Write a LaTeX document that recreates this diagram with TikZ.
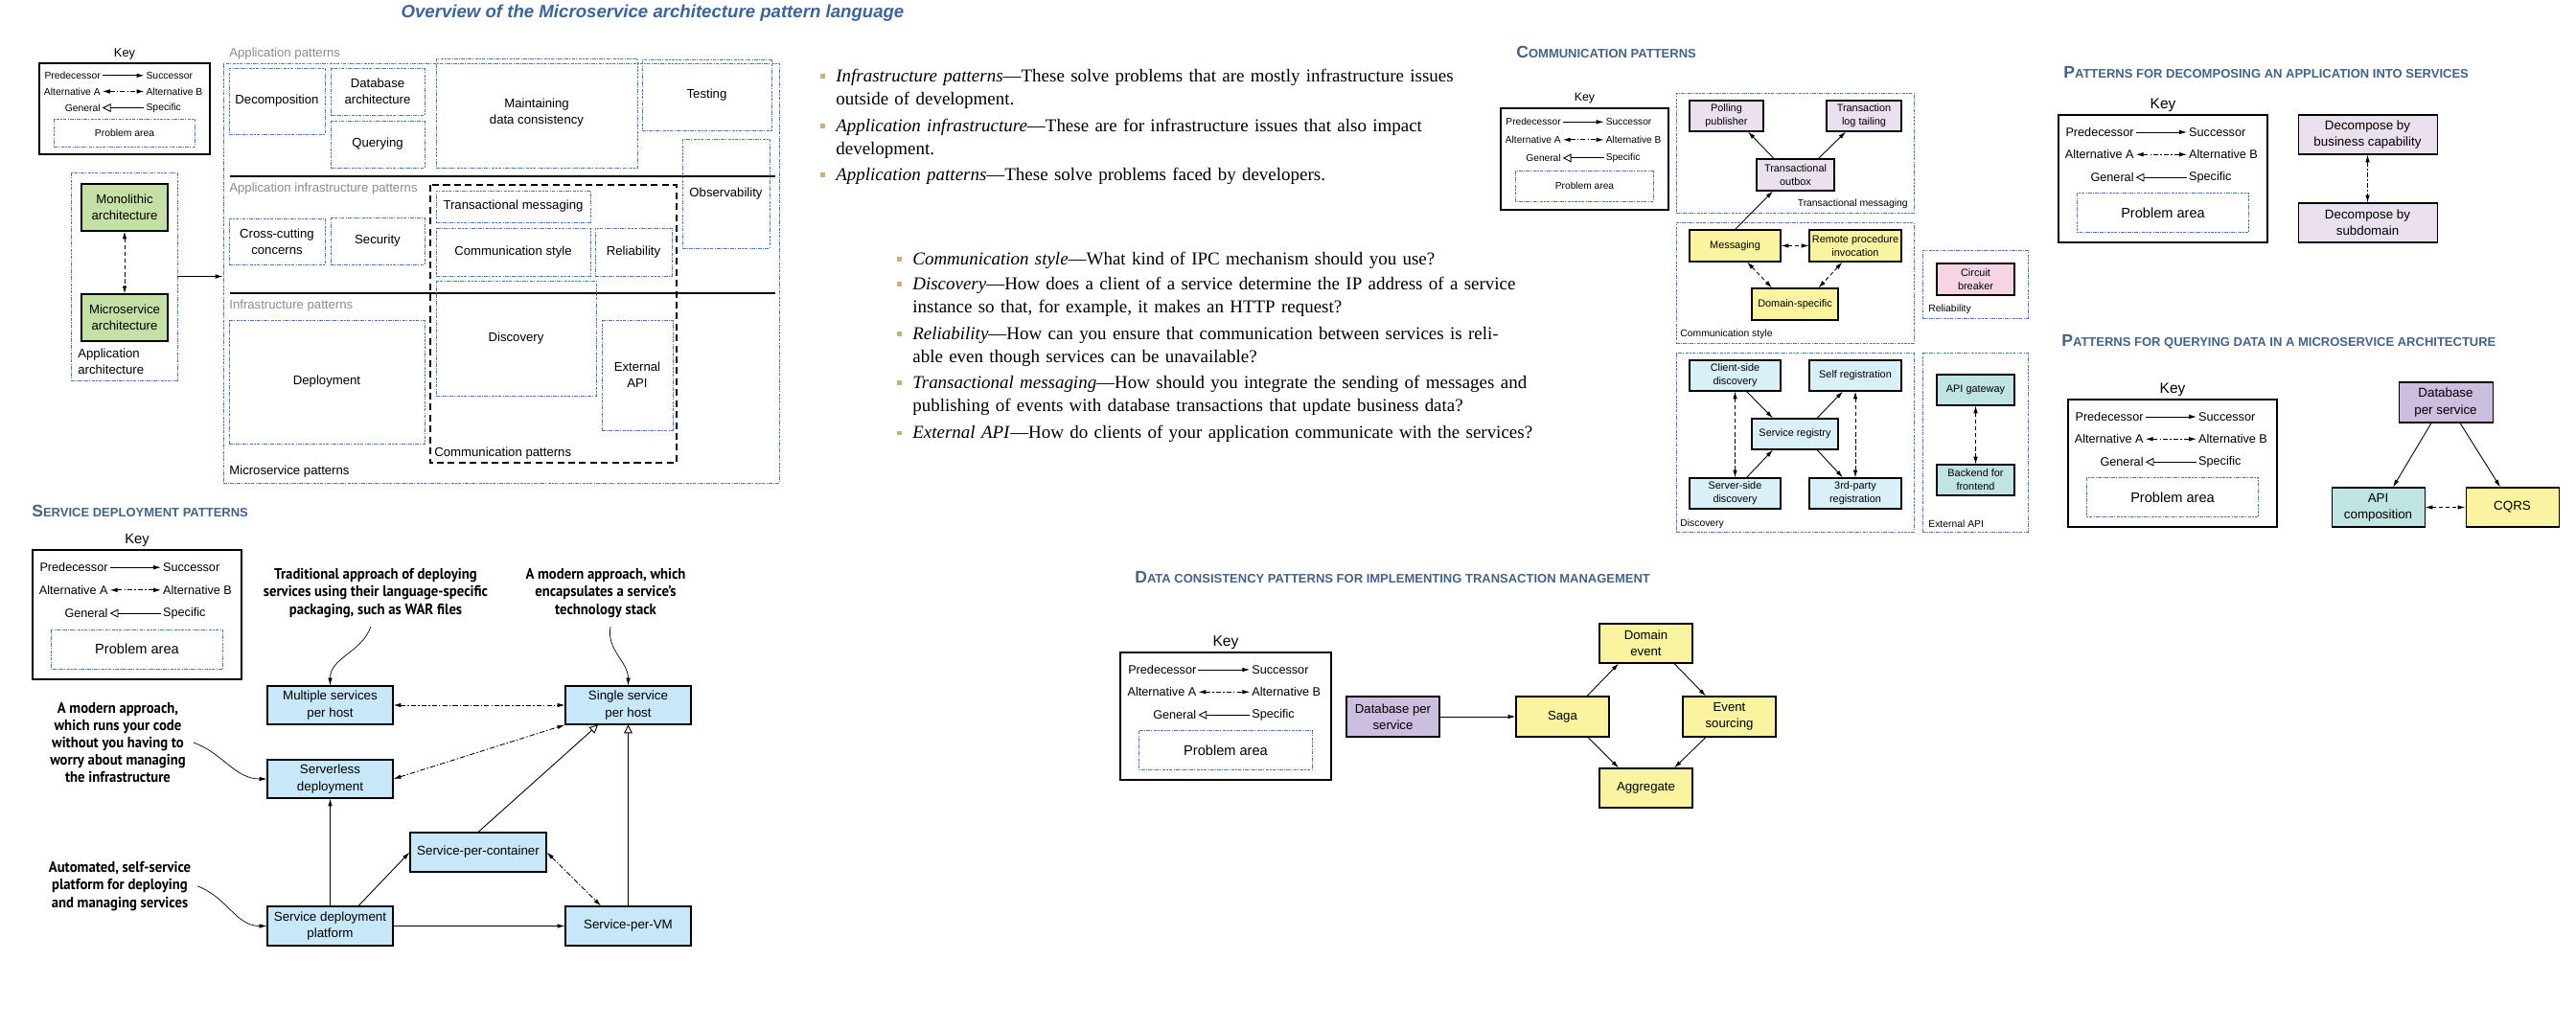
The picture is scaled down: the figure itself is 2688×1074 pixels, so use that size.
\documentclass[tikz,border=0pt]{standalone}
\usepackage{fontspec}
\setmainfont{Liberation Sans}
\newfontfamily\bodyserif{Liberation Serif}
\newfontfamily\notefont[FakeStretch=0.93]{PT Sans}
\usetikzlibrary{arrows.meta,positioning,calc}

\definecolor{areablue}{RGB}{76,118,190}
\definecolor{headblue}{RGB}{68,98,134}
\definecolor{titleblue}{RGB}{60,100,155}
\definecolor{labelgray}{RGB}{140,140,140}
\definecolor{archgreen}{RGB}{197,224,165}
\definecolor{lavender}{RGB}{234,224,238}
\definecolor{dbpurple}{RGB}{204,190,222}
\definecolor{patyellow}{RGB}{250,244,160}
\definecolor{cbpink}{RGB}{246,212,228}
\definecolor{disccyan}{RGB}{218,240,248}
\definecolor{apiteal}{RGB}{192,228,225}
\definecolor{deplblue}{RGB}{200,232,250}
\definecolor{bulletgold}{RGB}{205,175,120}

\newcommand{\fsz}[2]{\fontsize{#1}{#2}\selectfont}
\newcommand{\sectionhead}[2]{{\fsz{10}{12}#1}{\fsz{7.4}{9}#2}}
% justified line of a given width
\newcommand{\fullline}[2]{\hbox to #1{#2}}

\tikzset{
  keyframe/.style={draw, line width=0.8pt},
  probline/.style={draw=areablue, line width=0.5pt, dash pattern=on 2pt off 0.7pt on 0.7pt off 0.7pt},
  probarea/.style={probline, align=center, inner sep=1pt},
  patbox/.style={draw, line width=0.6pt, fill=#1, align=center, inner sep=1pt},
  patbox/.default=white,
  wh/.style 2 args={minimum width=#1*0.02cm, minimum height=#2*0.02cm},
  succarrow/.style={->, line width=0.5pt},
  altarrow/.style={<->, line width=0.5pt, dash pattern=on 2.5pt off 1.5pt},
  altdotarrow/.style={<->, line width=0.5pt, dash pattern=on 3pt off 1.2pt on 0.8pt off 1.2pt},
  genarrow/.style={-{Triangle[open,length=5pt,width=5pt]}, line width=0.5pt},
  noteline/.style={->, line width=0.4pt},
  divider/.style={line width=0.6pt},
  commframe/.style={line width=0.6pt, dash pattern=on 4pt off 2.5pt},
  grouplabel/.style={anchor=west, inner sep=0pt, text=labelgray},
  regionlabel/.style={inner sep=0pt, font=\fsz{5.9}{7}},
  headtext/.style={anchor=west, inner sep=0pt, text=headblue, font=\bfseries},
  bulletsq/.style={fill=bulletgold, minimum size=0.1cm, inner sep=0pt},
  bodytext/.style={anchor=north west, inner sep=0pt, align=left, font=\bodyserif\fsz{10.8}{13.8}},
  notetext/.style={align=center, inner sep=1pt, font=\notefont\bfseries\fsz{9}{10.3}},
}

% key box: name prefix, top-left corner, width, height (px), row / key / problem-area font sizes
\newcommand{\patternkey}[8]{%
  \pgfmathsetmacro{\keyw}{#4*0.02}%
  \pgfmathsetmacro{\keyh}{-#5*0.02}%
  \begin{scope}[shift={(#2,#3)}, x=\keyw cm, y=\keyh cm, font=\fontsize{#6}{#6}\selectfont]
    \draw[keyframe] (0,0) rectangle (1,1);
    \node[font=\fontsize{#7}{#7}\selectfont] (#1key) at ([yshift=0.2cm]0.5,0) {Key};
    \node[anchor=east, inner sep=1pt] (#1pre) at (0.37,0.135) {Predecessor};
    \node[anchor=west, inner sep=1pt] (#1suc) at (0.615,0.135) {Successor};
    \node[anchor=east, inner sep=1pt] (#1alta) at (0.37,0.31) {Alternative A};
    \node[anchor=west, inner sep=1pt] (#1altb) at (0.615,0.31) {Alternative B};
    \node[anchor=east, inner sep=1pt] (#1gen) at (0.37,0.49) {General};
    \node[anchor=west, inner sep=1pt] (#1spec) at (0.615,0.49) {Specific};
    \draw[probline] (0.088,0.615) rectangle (0.912,0.92);
    \node[font=\fontsize{#8}{#8}\selectfont] (#1prob) at (0.5,0.7675) {Problem area};
    \draw[succarrow] (#1pre) -- (#1suc);
    \draw[altdotarrow] (#1alta) -- (#1altb);
    \draw[genarrow] (#1spec) -- (#1gen);
  \end{scope}}

\begin{document}
\begin{tikzpicture}[x=0.02cm, y=-0.02cm, >={Latex[length=4.5pt,width=2.6pt]}]
\useasboundingbox (0,0) rectangle (2688,1074);

% Overview
\node[font=\bfseries\itshape\fsz{10.6}{12}, text=titleblue] (ovtitle) at (681,14) {Overview of the Microservice architecture pattern language};
\patternkey{ov}{41}{66}{178}{95}{5.9}{7.3}{5.9}

\begin{scope}[font=\fsz{7.5}{9.7}]
  % Application architecture
  \node[probarea, wh={111}{217}] (apparch) at (129.5,288.5) {};
  \node[patbox=archgreen, wh={90}{49}] (mono) at (130,216.5) {Monolithic\\architecture};
  \node[patbox=archgreen, wh={90}{49}] (micro) at (130,331.5) {Microservice\\architecture};
  \node[anchor=west, align=left, inner sep=0pt] (applabel) at (81,377.5) {Application\\architecture};
  \draw[altarrow] (mono) -- (micro);

  % Microservice patterns
  \node[probarea, wh={580}{438}] (msarea) at (523,285) {};
  \draw[succarrow] (apparch.east) -- (apparch.east -| msarea.west);
  \node[grouplabel] (applab) at (239,56) {Application patterns};
  \node[probarea, wh={100}{69}] (decomp) at (289,105.5) {Decomposition};
  \node[probarea, wh={98}{49}] (dbarch) at (394,95.5) {Database\\architecture};
  \node[probarea, wh={98}{49}] (querying) at (394,150.5) {Querying};
  \node[probarea, wh={210}{114}] (consist) at (560,118) {Maintaining\\data consistency};
  \node[probarea, wh={135}{74}] (testing) at (737.5,99) {Testing};
  \draw[divider] (240,184) -- (809,184);

  \node[grouplabel] (appinflab) at (239,197) {Application infrastructure patterns};
  \node[probarea, wh={100}{48}] (crosscut) at (289,252) {Cross-cutting\\concerns};
  \node[probarea, wh={98}{49}] (security) at (394,251.5) {Security};
  \node[probarea, wh={91}{114}] (observ) at (757.5,202) {Observability};
  \draw[commframe] (449,193) rectangle (706,483);
  \node[probarea, wh={161}{33}] (txmsg) at (535.5,215.5) {Transactional messaging};
  \node[probarea, wh={161}{50}] (commstyle) at (535.5,263) {Communication style};
  \node[probarea, wh={80}{50}] (reliab) at (661,263) {Reliability};
  \draw[divider] (240,306) -- (809,306);

  \node[grouplabel] (inflab) at (239,319) {Infrastructure patterns};
  \node[probarea, wh={204}{129}] (deploy) at (341,398.5) {Deployment};
  \node[probarea, wh={167}{120}] (discov) at (538.5,353) {Discovery};
  \node[probarea, wh={74}{115}] (extapi) at (665,391.5) {External\\API};
  \node[grouplabel, text=black] (cplab) at (453,473) {Communication patterns};
  \node[grouplabel, text=black] (mslab) at (239,492) {Microservice patterns};
\end{scope}

% Bullets
\node[bulletsq] (ib1) at (858,80) {};
\node[bodytext, text width=12.8cm] (it1) at (872,68) {\fullline{12.8cm}{\strut\textit{Infrastructure patterns}—These solve problems that are mostly infrastructure issues}\\outside of development.};
\node[bulletsq] (ib2) at (858,132) {};
\node[bodytext, text width=12.8cm] (it2) at (872,120) {\fullline{12.8cm}{\strut\textit{Application infrastructure}—These are for infrastructure issues that also impact}\\development.};
\node[bulletsq] (ib3) at (858,183) {};
\node[bodytext, text width=12.8cm] (it3) at (872,171) {\mbox{\strut\textit{Application patterns}—These solve problems faced by developers.}};

\node[bulletsq] (ib4) at (938,271) {};
\node[bodytext, text width=13.2cm] (it4) at (952,259) {\mbox{\strut\textit{Communication style}—What kind of IPC mechanism should you use?}};
\node[bulletsq] (ib5) at (938,297) {};
\node[bodytext, text width=13.2cm] (it5) at (952,285) {\fullline{13.2cm}{\strut\textit{Discovery}—How does a client of a service determine the IP address of a service}\\instance so that, for example, it makes an HTTP request?};
\node[bulletsq] (ib6) at (938,349) {};
\node[bodytext, text width=13.2cm] (it6) at (952,337) {\fullline{13.2cm}{\strut\textit{Reliability}—How can you ensure that communication between services is reli-}\\able even though services can be unavailable?};
\node[bulletsq] (ib7) at (938,400) {};
\node[bodytext, text width=13.2cm] (it7) at (952,388) {\fullline{13.2cm}{\strut\textit{Transactional messaging}—How should you integrate the sending of messages and}\\publishing of events with database transactions that update business data?};
\node[bulletsq] (ib8) at (938,452) {};
\node[bodytext, text width=13.2cm] (it8) at (952,440) {\fullline{13.2cm}{\strut\textit{External API}—How do clients of your application communicate with the services?}};

% Communication patterns
\node[headtext] (cmtitle) at (1582,54) {\sectionhead{C}{OMMUNICATION PATTERNS}};
\patternkey{cm}{1566}{113}{175}{106}{5.8}{7}{5.8}
\begin{scope}[font=\fsz{6.2}{8}]
  % Problem areas
  \node[probarea, wh={248}{125}] (txregion) at (1873,159.5) {};
  \node[probarea, wh={248}{126}] (csregion) at (1873,295) {};
  \node[probarea, wh={110}{71}] (relregion) at (2061,296.5) {};
  \node[probarea, wh={248}{187}] (discregion) at (1873,461.5) {};
  \node[probarea, wh={110}{187}] (extregion) at (2061,461.5) {};
  \node[regionlabel, anchor=east] (txlabel) at (1991,213) {Transactional messaging};
  \node[regionlabel, anchor=west] (cslabel) at (1753,349) {Communication style};
  \node[regionlabel, anchor=west] (rellabel) at (2012,323) {Reliability};
  \node[regionlabel, anchor=west] (disclabel) at (1753,547) {Discovery};
  \node[regionlabel, anchor=west] (extlabel) at (2012,547) {External API};

  % Transactional messaging
  \node[patbox=lavender, wh={77}{32}] (pollpub) at (1801.5,121) {Polling\\publisher};
  \node[patbox=lavender, wh={78}{32}] (logtail) at (1945,121) {Transaction\\log tailing};
  \node[patbox=lavender, wh={81}{33}] (outbox) at (1873.5,182.5) {Transactional\\outbox};
  \draw[succarrow] ([xshift=-0.45cm]outbox.north) -- ([xshift=0.45cm]pollpub.south);
  \draw[succarrow] ([xshift=0.48cm]outbox.north) -- ([xshift=-0.38cm]logtail.south);

  % Communication style
  \node[patbox=patyellow, wh={95}{33}] (messaging) at (1810.5,256.5) {Messaging};
  \node[patbox=patyellow, wh={96}{33}] (rpi) at (1936,256.5) {Remote procedure\\invocation};
  \node[patbox=patyellow, wh={90}{33}] (domspec) at (1873,317.5) {Domain-specific};
  \draw[succarrow] (messaging.north) -- ([xshift=-0.47cm]outbox.south);
  \draw[altarrow] (messaging) -- (rpi);
  \draw[altarrow] ([xshift=0.25cm]messaging.south) -- ([xshift=-0.48cm]domspec.north);
  \draw[altarrow] ([xshift=-0.27cm]rpi.south) -- ([xshift=0.49cm]domspec.north);

  % Reliability
  \node[patbox=cbpink, wh={81}{33}] (circuit) at (2061.5,291.5) {Circuit\\breaker};

  % Discovery
  \node[patbox=disccyan, wh={95}{32}] (clientdisc) at (1810.5,392) {Client-side\\discovery};
  \node[patbox=disccyan, wh={96}{32}] (selfreg) at (1936,392) {Self registration};
  \node[patbox=disccyan, wh={90}{32}] (registry) at (1873,453) {Service registry};
  \node[patbox=disccyan, wh={95}{32}] (serverdisc) at (1810.5,515) {Server-side\\discovery};
  \node[patbox=disccyan, wh={96}{32}] (thirdreg) at (1936,515) {3rd-party\\registration};
  \draw[succarrow] ([xshift=0.24cm]clientdisc.south) -- ([xshift=-0.46cm]registry.north);
  \draw[succarrow] ([xshift=0.46cm]registry.north) -- ([xshift=-0.26cm]selfreg.south);
  \draw[succarrow] ([xshift=0.24cm]serverdisc.north) -- ([xshift=-0.46cm]registry.south);
  \draw[succarrow] ([xshift=0.46cm]registry.south) -- ([xshift=-0.26cm]thirdreg.north);
  \draw[altarrow] (clientdisc) -- (serverdisc);
  \draw[altarrow] (selfreg) -- (thirdreg);

  % External API
  \node[patbox=apiteal, wh={81}{32}] (apigw) at (2061.5,407) {API gateway};
  \node[patbox=apiteal, wh={81}{32}] (bff) at (2061.5,501) {Backend for\\frontend};
  \draw[altarrow] (apigw) -- (bff);
\end{scope}

% Decomposition
\node[headtext] (dctitle) at (2153,76) {\sectionhead{P}{ATTERNS FOR DECOMPOSING AN APPLICATION INTO SERVICES}};
\patternkey{dc}{2148}{120}{218}{133}{7.2}{8.8}{8.3}
\begin{scope}[font=\fsz{7.6}{9.8}]
  \node[patbox=lavender, wh={145}{41}] (bizcap) at (2470.5,140.5) {Decompose by\\business capability};
  \node[patbox=lavender, wh={145}{41}] (subdom) at (2470.5,232.5) {Decompose by\\subdomain};
  \draw[altdotarrow] (bizcap) -- (subdom);
\end{scope}

% Querying
\node[headtext] (qrtitle) at (2151,357) {\sectionhead{P}{ATTERNS FOR QUERYING DATA IN A MICROSERVICE ARCHITECTURE}};
\patternkey{qr}{2158}{417}{218}{133}{7.2}{8.8}{8.3}
\begin{scope}[font=\fsz{7.6}{9.8}]
  \node[patbox=dbpurple, wh={98}{42}] (dbquery) at (2552,420) {Database\\per service};
  \node[patbox=apiteal, wh={97}{41}] (apicomp) at (2481.5,529.5) {API\\composition};
  \node[patbox=patyellow, wh={97}{41}] (cqrs) at (2621.5,529.5) {CQRS};
  \draw[succarrow] ([xshift=-0.3cm]dbquery.south) -- ([xshift=0.31cm]apicomp.north);
  \draw[succarrow] ([xshift=0.3cm]dbquery.south) -- ([xshift=-0.25cm]cqrs.north);
  \draw[altarrow] (apicomp) -- (cqrs);
\end{scope}

% Service deployment
\node[headtext] (dptitle) at (33,533) {\sectionhead{S}{ERVICE DEPLOYMENT PATTERNS}};
\patternkey{dp}{34}{574}{218}{135}{7.2}{8.4}{8.3}
\begin{scope}[font=\fsz{7.6}{9.8}]
  \node[patbox=deplblue, wh={131}{40}] (multi) at (344.5,736) {Multiple services\\per host};
  \node[patbox=deplblue, wh={131}{40}] (single) at (655.5,736) {Single service\\per host};
  \node[patbox=deplblue, wh={131}{40}] (serverless) at (344.5,813) {Serverless\\deployment};
  \node[patbox=deplblue, wh={142}{41}] (spc) at (499,889.5) {Service-per-container};
  \node[patbox=deplblue, wh={131}{41}] (sdp) at (344.5,966.5) {Service deployment\\platform};
  \node[patbox=deplblue, wh={131}{41}] (spvm) at (655.5,966.5) {Service-per-VM};
  \draw[altdotarrow] (multi) -- (single);
  \draw[altdotarrow] (serverless.east) -- (single.south west);
  \draw[succarrow] (sdp.north) -- (serverless.south);
  \draw[succarrow] ([xshift=0.59cm]sdp.north) -- (spc.west);
  \draw[genarrow] (spc.north) -- ([xshift=-0.63cm]single.south);
  \draw[genarrow] (spvm.north) -- (single.south);
  \draw[succarrow] (sdp) -- (spvm);
  \draw[altdotarrow] (spc.east) -- ([xshift=-0.57cm]spvm.north);

  % Notes
  \node[notetext] (tradnote) at (392,619) {Traditional approach of deploying\\services using their language-specific\\packaging, such as WAR files};
  \node[notetext] (modnote) at (632,619) {A modern approach, which\\encapsulates a service’s\\technology stack};
  \node[notetext] (servnote) at (123,775) {A modern approach,\\which runs your code\\without you having to\\worry about managing\\the infrastructure};
  \node[notetext] (autonote) at (125,925) {Automated, self-service\\platform for deploying\\and managing services};
  \draw[noteline] ([xshift=-0.1cm,yshift=-0.15cm]tradnote.south) to[out=-110,in=90] (multi.north);
  \draw[noteline] ([xshift=0.1cm,yshift=-0.15cm]modnote.south) to[out=-100,in=90] (single.north);
  \draw[noteline] ([xshift=0.12cm]servnote.east) to[out=-20,in=180] (serverless.west);
  \draw[noteline] ([xshift=0.1cm]autonote.east) to[out=-20,in=180] (sdp.west);
\end{scope}

% Data consistency
\node[headtext] (dttitle) at (1184,603) {\sectionhead{D}{ATA CONSISTENCY PATTERNS FOR IMPLEMENTING TRANSACTION MANAGEMENT}};
\patternkey{dt}{1169}{681}{220}{133}{7.2}{8.9}{8.3}
\begin{scope}[font=\fsz{7.5}{9.7}]
  \node[patbox=dbpurple, wh={97}{42}] (dbdata) at (1453.5,748) {Database per\\service};
  \node[patbox=patyellow, wh={97}{42}] (saga) at (1630.5,748) {Saga};
  \node[patbox=patyellow, wh={97}{41}] (domevt) at (1717.5,671.5) {Domain\\event};
  \node[patbox=patyellow, wh={97}{42}] (evtsrc) at (1804.5,748) {Event\\sourcing};
  \node[patbox=patyellow, wh={97}{41}] (aggr) at (1717.5,822.5) {Aggregate};
  \draw[succarrow] (dbdata) -- (saga);
  \draw[succarrow] ([xshift=0.51cm]saga.north) -- ([xshift=-0.57cm]domevt.south);
  \draw[succarrow] ([xshift=0.59cm]domevt.south) -- ([xshift=-0.49cm]evtsrc.north);
  \draw[succarrow] ([xshift=0.53cm]saga.south) -- ([xshift=-0.57cm]aggr.north);
  \draw[succarrow] ([xshift=-0.49cm]evtsrc.south) -- ([xshift=0.59cm]aggr.north);
\end{scope}
\end{tikzpicture}
\end{document}
